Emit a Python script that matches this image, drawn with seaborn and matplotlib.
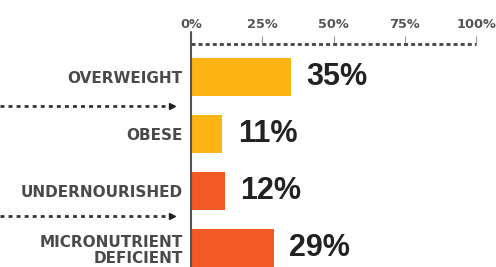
import matplotlib
matplotlib.use("Agg")
import matplotlib.pyplot as plt
import matplotlib.transforms as mtransforms
import seaborn as sns
import pandas as pd

categories = ["OVERWEIGHT", "OBESE", "UNDERNOURISHED", "MICRONUTRIENT\nDEFICIENT"]
values = [35, 11, 12, 29]
bar_colors = ["#FDB515", "#FDB515", "#F15A22", "#F15A22"]
xticks = [0, 25, 50, 75, 100]
xtick_labels = ["0%", "25%", "50%", "75%", "100%"]
arrow_rows = [0.5, 2.44]

sns.set_style("white")
plt.rcParams["font.family"] = ["DejaVu Sans"]

df = pd.DataFrame({"category": categories, "value": values})

fig = plt.figure(figsize=(4.96, 2.67), dpi=100)
ax = fig.add_axes([191 / 496, 0.0, 285 / 496, 1 - 44 / 267])

sns.barplot(data=df, x="value", y="category", hue="category",
            palette=bar_colors, width=0.67, legend=False, ax=ax,
            saturation=1, edgecolor="none")

ax.set_xlim(0, 100)
ax.set_ylim(3.333, -0.579)
ax.set_xlabel("")
ax.set_ylabel("")

# top axis
ax.xaxis.tick_top()
ax.set_xticks(xticks)
ax.set_xticklabels(xtick_labels)
ax.tick_params(axis="x", which="major", length=6, width=0.8, color="#999999",
               pad=3, labelsize=9.3, labelcolor="#555555", direction="out")
for lbl in ax.get_xticklabels():
    lbl.set_fontweight("bold")

# category labels
ax.tick_params(axis="y", length=0, pad=6, labelsize=11, labelcolor="#4a4a4a")
for lbl in ax.get_yticklabels():
    lbl.set_fontweight("bold")
    lbl.set_linespacing(1.1)

for side in ["right", "bottom", "left", "top"]:
    ax.spines[side].set_visible(False)

# dashed top rule
ax.plot([0, 1], [1, 1], transform=ax.transAxes, clip_on=False,
        color="#444444", lw=2.0, dashes=(1.45, 1.1),
        dash_capstyle="butt", zorder=5)

ax.axvline(0, ymin=0, ymax=1.054, color="#555555", lw=1.5, clip_on=False, zorder=6)

# value labels
for cont in ax.containers:
    ax.bar_label(cont, fmt="%d%%", padding=11, fontsize=22, fontweight="bold",
                 color="#222222", family="Liberation Sans", clip_on=False)

# dotted arrows in the label area
blend = mtransforms.blended_transform_factory(fig.transFigure, ax.transData)
for r in arrow_rows:
    ax.plot([0.0, 170 / 496], [r, r], transform=blend, clip_on=False,
            color="#333333", lw=2.0, dashes=(1.4, 1.5), dash_capstyle="butt")
    ax.plot([172 / 496], [r], transform=blend, clip_on=False,
            marker=">", markersize=5, color="#222222", lw=0)

fig.savefig("out.png", dpi=100)
